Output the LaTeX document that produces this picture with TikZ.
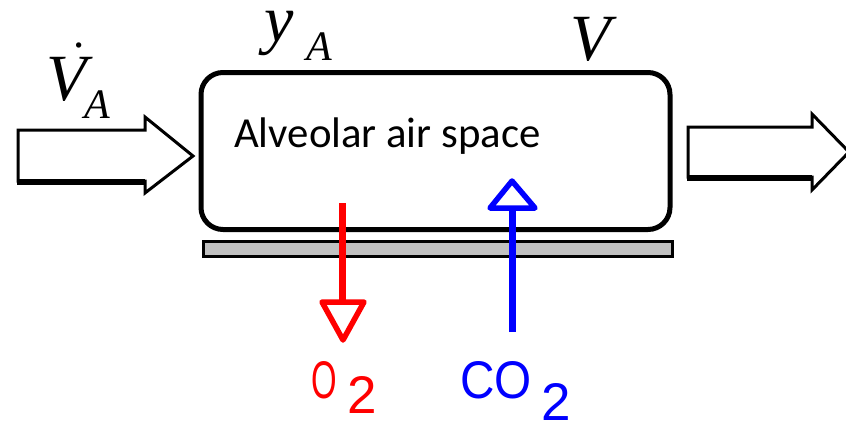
\documentclass[tikz,border=0pt]{standalone}
\usepackage{graphicx}
\usepackage{fontspec}
\setmainfont{Liberation Serif}
\newfontfamily\calfont{Carlito}
\newfontfamily\lsansfont{Liberation Sans}
\definecolor{membranegray}{RGB}{192,192,192}
\definecolor{o2red}{RGB}{255,0,0}
\definecolor{co2blue}{RGB}{0,0,255}
\begin{document}
\begin{tikzpicture}[x=1pt,y=-1pt,
  lbl/.style={inner sep=0pt, anchor=base west},
  flowarrow/.style={draw=black, line width=3, fill=white, line join=miter},
  flowshadow/.style={draw=black, line width=6, line cap=butt},
  gas/.style={line width=7},
  gashead/.style={line width=5.5, fill=white, line join=round}]
\useasboundingbox (0,0) rectangle (846,423);
\clip (0,0) rectangle (846,423);
% alveolar box
\draw[line width=5, rounded corners=22] (201,72.5) rectangle (670,229.5);
\node[lbl] (alv) at (234,147) {\calfont\fontsize{42.8}{50}\selectfont Alveolar air space};
% membrane
\draw[line width=3, fill=membranegray] (203,241.5) rectangle (672,256.5);
% inflow arrow
\draw[flowarrow] (18,130) -- (145,130) -- (145,117) -- (193,156) -- (145,193) -- (145,181) -- (18,181) -- cycle;
\draw[flowshadow] (17,181.5) -- (145,181.5);
% outflow arrow
\draw[flowarrow] (688,127) -- (812,127) -- (812,114) -- (849,152) -- (812,190) -- (812,177) -- (688,177) -- cycle;
\draw[flowshadow] (687,177.5) -- (812,177.5);
% O2 arrow
\coordinate (o2s) at (342,203);
\coordinate (o2e) at (342,300);
\draw[gas, o2red] (o2s) -- (o2e);
\draw[gashead, draw=o2red] (322,302) -- (364,302) -- (343,340) -- cycle;
% CO2 arrow
\coordinate (co2s) at (512,332);
\coordinate (co2e) at (512,210);
\draw[gas, co2blue] (co2s) -- (co2e);
\draw[gashead, draw=co2blue] (490,208) -- (535,208) -- (512,181) -- cycle;
% gas labels
\node[lbl, text=o2red] (o2) at (311,398) {\lsansfont\fontsize{53}{60}\selectfont\scalebox{0.62}[1]{O}\hspace{11pt}\raisebox{-15pt}{2}};
\node[lbl, text=co2blue] (co2) at (460,398) {\lsansfont\fontsize{53}{60}\selectfont\scalebox{0.9}[1]{CO}\hspace{10pt}\raisebox{-22pt}{2}};
% symbols
\node[lbl] (vdot) at (46,100) {\fontsize{66}{70}\selectfont\itshape V\llap{\raisebox{53pt}{\fontsize{45}{45}\selectfont\upshape .}\hspace{2pt}}};
\node[lbl] (vdotA) at (84,118) {\fontsize{42}{44}\selectfont\itshape A};
\node[lbl] (ya) at (264,41) {\fontsize{66}{70}\selectfont\itshape y};
\node[lbl] (yaA) at (306,60) {\fontsize{42}{44}\selectfont\itshape A};
\node[lbl] (vol) at (570,60) {\fontsize{66}{70}\selectfont\itshape V};
\end{tikzpicture}
\end{document}
